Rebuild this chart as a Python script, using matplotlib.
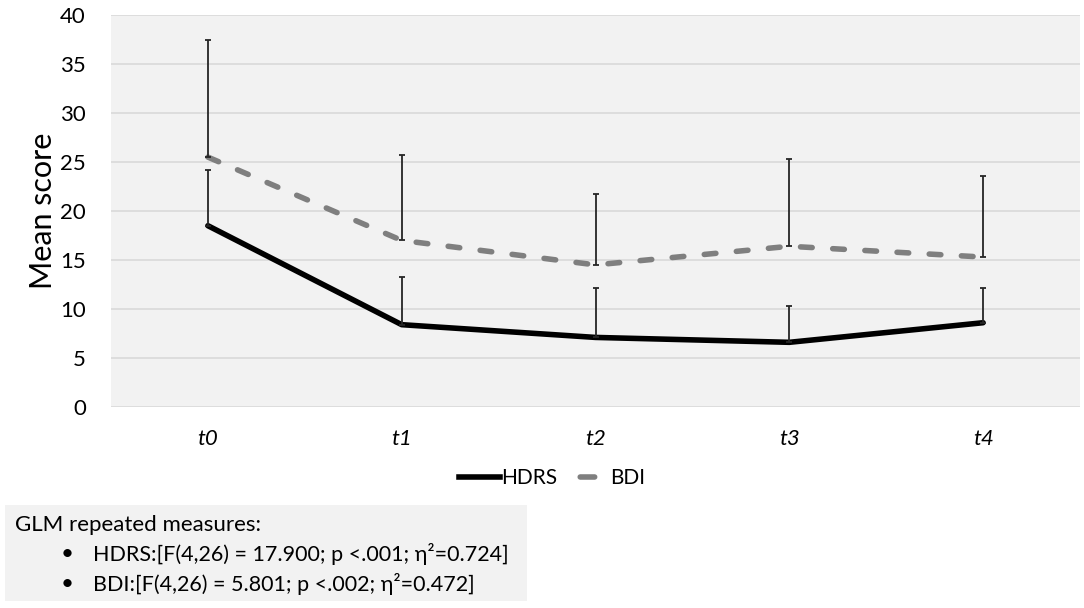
import matplotlib
matplotlib.use("Agg")
import matplotlib.pyplot as plt
from matplotlib.patches import Rectangle
from matplotlib.lines import Line2D

plt.rcParams['font.family'] = ['Lato', 'DejaVu Sans']

# data
timepoints = ['t0', 't1', 't2', 't3', 't4']
hdrs_mean = [18.5, 8.4, 7.1, 6.6, 8.6]
hdrs_upper = [24.2, 13.3, 12.1, 10.3, 12.1]
bdi_mean = [25.5, 17.0, 14.5, 16.4, 15.3]
bdi_upper = [37.5, 25.7, 21.7, 25.3, 23.6]

stats_title = 'GLM repeated measures:'
stats_lines = ['HDRS:[F(4,26) = 17.900; p <.001; \u03b7\u00b2=0.724]',
               'BDI:[F(4,26) = 5.801; p <.002; \u03b7\u00b2=0.472]']

W, H = 1084, 608
fig = plt.figure(figsize=(W / 100, H / 100), dpi=100)
ax = fig.add_axes([111 / W, 1 - 407 / H, (1080 - 111) / W, (407 - 15) / H])
ax.set_facecolor('#f2f2f2')

x = list(range(len(timepoints)))
hdrs_err = [u - m for u, m in zip(hdrs_upper, hdrs_mean)]
bdi_err = [u - m for u, m in zip(bdi_upper, bdi_mean)]

ax.plot(x, hdrs_mean, color='black', lw=4, solid_capstyle='round',
        solid_joinstyle='round', zorder=3)
ax.plot(x, bdi_mean, color='#7f7f7f', lw=4, dashes=(2.1, 3.7),
        dash_capstyle='round', zorder=3)
ax.errorbar(x, hdrs_mean, yerr=[[0] * 5, hdrs_err], fmt='none',
            ecolor='#262626', elinewidth=1.3, capsize=2.5, capthick=1.3, zorder=4)
ax.errorbar(x, bdi_mean, yerr=[[0] * 5, bdi_err], fmt='none',
            ecolor='#262626', elinewidth=1.3, capsize=2.5, capthick=1.3, zorder=4)

ax.set_xlim(-0.5, 4.5)
ax.set_ylim(0, 40)
ax.set_yticks(range(0, 41, 5))
ax.set_xticks(x)
ax.set_xticklabels(timepoints, fontstyle='italic', fontsize=16)
ax.tick_params(axis='y', labelsize=16, length=0, pad=18)
ax.tick_params(axis='x', length=0, pad=16)
ax.grid(axis='y', color='#d9d9d9', lw=1.2)
ax.set_axisbelow(True)
for s in ax.spines.values():
    s.set_visible(False)
ax.set_ylabel('Mean score', fontsize=22, labelpad=2)

# BDI key shows a single dash in the middle of the handle
handles = [Line2D([], [], color='black', lw=4),
           Line2D([], [], color='#7f7f7f', lw=4, linestyle=(9.4, (2.6, 9.0)),
                  dash_capstyle='round')]
fig.legend(handles, ['HDRS', 'BDI'], loc='center', bbox_to_anchor=(552 / W, 1 - 478 / H),
           ncol=2, frameon=False, fontsize=15, handlelength=2.0, handletextpad=0.05,
           columnspacing=0.5)

fig.patches.append(Rectangle((5 / W, 1 - 601 / H), (527 - 5) / W, (601 - 505) / H,
                             transform=fig.transFigure, facecolor='#f2f2f2',
                             edgecolor='none', zorder=0))
fig.text(15 / W, 1 - 525 / H, stats_title, fontsize=16, va='center')
for i, line in enumerate(stats_lines):
    yy = 1 - (554 + 30 * i) / H
    fig.text(67 / W, yy, '\u2022', fontsize=16, va='center', ha='center')
    fig.text(93 / W, yy, line, fontsize=15.5, va='center')

fig.savefig('out.png', dpi=100)
